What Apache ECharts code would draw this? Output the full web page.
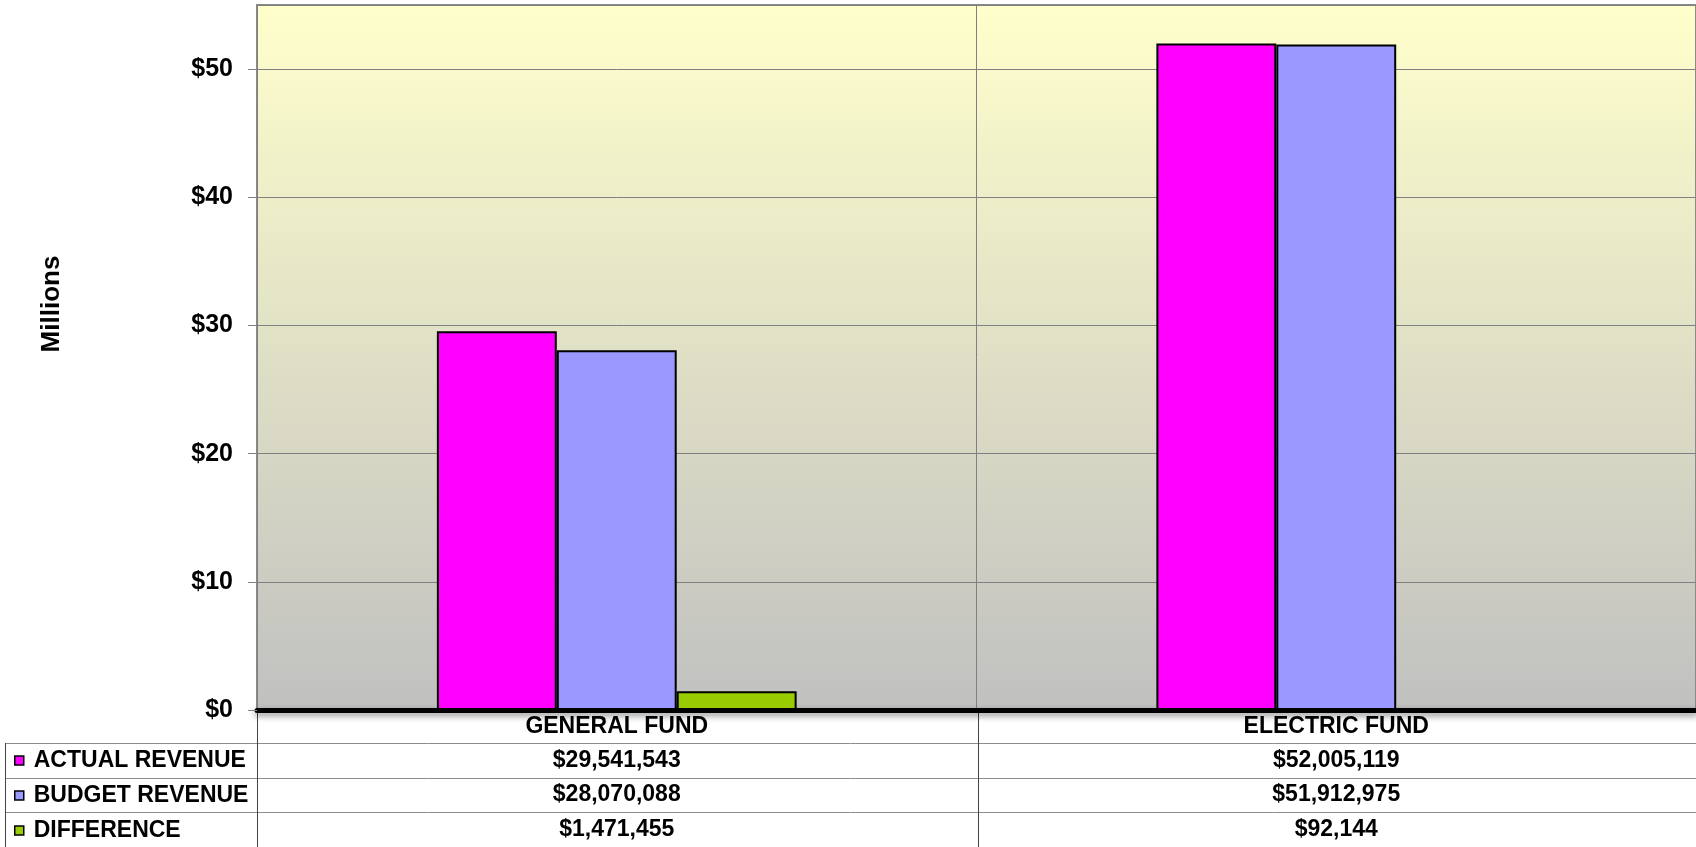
<!DOCTYPE html>
<html>
<head>
<meta charset="utf-8">
<script src="https://cdn.jsdelivr.net/npm/echarts@6/dist/echarts.min.js"></script>
<style>
html,body{margin:0;padding:0;background:#fff;}
#c{width:1696px;height:847px;}
</style>
</head>
<body>
<div id="c"></div>
<script>
// ---- data ----
var categories = ['GENERAL FUND', 'ELECTRIC FUND'];
var seriesNames = ['ACTUAL REVENUE', 'BUDGET REVENUE', 'DIFFERENCE'];
var actualRevenue = [29541543, 52005119];
var budgetRevenue = [28070088, 51912975];
var difference = [1471455, 92144];
var yTicks = [0, 10, 20, 30, 40, 50];

// ---- layout ----
var FONT = '"Liberation Sans", Arial, sans-serif';
var gridLeft = 257, gridTop = 5, gridWidth = 1442, gridHeight = 705;
var axisY = gridTop + gridHeight;
var rowLines = [743, 778, 812];
var colors = ['#FF00FF', '#9999FF', '#99CC00'];
var tableFont = 23;

function money(v) {
  return '$' + v.toLocaleString('en-US');
}
function millions(arr) { return arr.map(function (v) { return v / 1e6; }); }

var chart = echarts.init(document.getElementById('c'), null, {renderer: 'canvas'});

var rows = [actualRevenue, budgetRevenue, difference];
var rowOffsets = [33, 67.5, 102];

var xAxes = [{
  type: 'category',
  data: categories,
  gridIndex: 0,
  position: 'bottom',
  axisLine: {show: true, onZero: false, lineStyle: {color: '#000', width: 5, shadowColor: 'rgba(0,0,0,0.45)', shadowBlur: 6, shadowOffsetY: 3}},
  axisTick: {show: false},
  splitLine: {show: true, lineStyle: {color: '#808080', width: 1}},
  axisLabel: {color: '#000', fontFamily: FONT, fontWeight: 'bold', fontSize: tableFont, lineHeight: 32, margin: 1, verticalAlign: 'top'}
}];
rows.forEach(function (r, i) {
  xAxes.push({
    type: 'category',
    data: r.map(money),
    gridIndex: 0,
    position: 'bottom',
    offset: rowOffsets[i],
    axisLine: {show: false},
    axisTick: {show: false},
    splitLine: {show: false},
    axisLabel: {color: '#000', fontFamily: FONT, fontWeight: 'bold', fontSize: tableFont, lineHeight: 35, margin: 0, verticalAlign: 'top'}
  });
});

var series = [actualRevenue, budgetRevenue, difference].map(function (arr, i) {
  return {
    name: seriesNames[i],
    type: 'bar',
    xAxisIndex: 0,
    yAxisIndex: 0,
    data: millions(arr),
    barGap: '0%',
    barCategoryGap: '50%',
    itemStyle: {color: colors[i], borderColor: '#000', borderWidth: 2},
    emphasis: {disabled: true},
    z: 3
  };
});

var lineStyleTable = {stroke: '#8c8c8c', lineWidth: 1};
var graphics = [];
rowLines.forEach(function (y) {
  graphics.push({type: 'line', shape: {x1: 5, y1: y + 0.5, x2: 1696, y2: y + 0.5}, style: lineStyleTable, silent: true});
});
graphics.push({type: 'line', shape: {x1: 5.5, y1: rowLines[0], x2: 5.5, y2: 847}, style: {stroke: '#444', lineWidth: 1}, silent: true});
graphics.push({type: 'line', shape: {x1: gridLeft + 0.5, y1: axisY, x2: gridLeft + 0.5, y2: 847}, style: {stroke: '#444', lineWidth: 1}, silent: true});
graphics.push({type: 'line', shape: {x1: gridLeft + gridWidth / 2 + 0.5, y1: axisY, x2: gridLeft + gridWidth / 2 + 0.5, y2: 847}, style: {stroke: '#444', lineWidth: 1}, silent: true});

chart.setOption({
  animation: false,
  backgroundColor: '#fff',
  grid: {
    left: gridLeft, top: gridTop, width: gridWidth, height: gridHeight,
    show: true,
    borderColor: '#8a8a8a',
    borderWidth: 2,
    backgroundColor: {
      type: 'linear', x: 0, y: 0, x2: 0, y2: 1,
      colorStops: [{offset: 0, color: '#FFFFCC'}, {offset: 1, color: '#C0C0C0'}]
    }
  },
  legend: {
    orient: 'vertical',
    left: 14,
    top: 749,
    padding: 0,
    itemGap: 12,
    itemWidth: 9,
    itemHeight: 9,
    icon: 'rect',
    selectedMode: false,
    itemStyle: {borderColor: '#000', borderWidth: 1.5},
    textStyle: {color: '#000', fontFamily: FONT, fontWeight: 'bold', fontSize: tableFont, lineHeight: 23, padding: [0, 0, 0, 5]},
    data: seriesNames
  },
  xAxis: xAxes,
  yAxis: {
    type: 'value',
    min: 0,
    max: 55,
    interval: 10,
    name: 'Millions',
    nameLocation: 'middle',
    nameRotate: 90,
    nameGap: 192,
    nameTextStyle: {color: '#000', fontFamily: FONT, fontWeight: 'bold', fontSize: 26, padding: [0, 0, 0, 107]},
    axisLine: {show: false},
    axisTick: {show: true, length: 9, lineStyle: {color: '#808080'}},
    splitLine: {show: true, lineStyle: {color: '#808080', width: 1}},
    axisLabel: {
      color: '#000', fontFamily: FONT, fontWeight: 'bold', fontSize: 25, margin: 24,
      showMaxLabel: false,
      formatter: function (v) { return yTicks.indexOf(v) >= 0 ? '$' + v : ''; }
    }
  },
  series: series,
  graphic: graphics
});
</script>
</body>
</html>
